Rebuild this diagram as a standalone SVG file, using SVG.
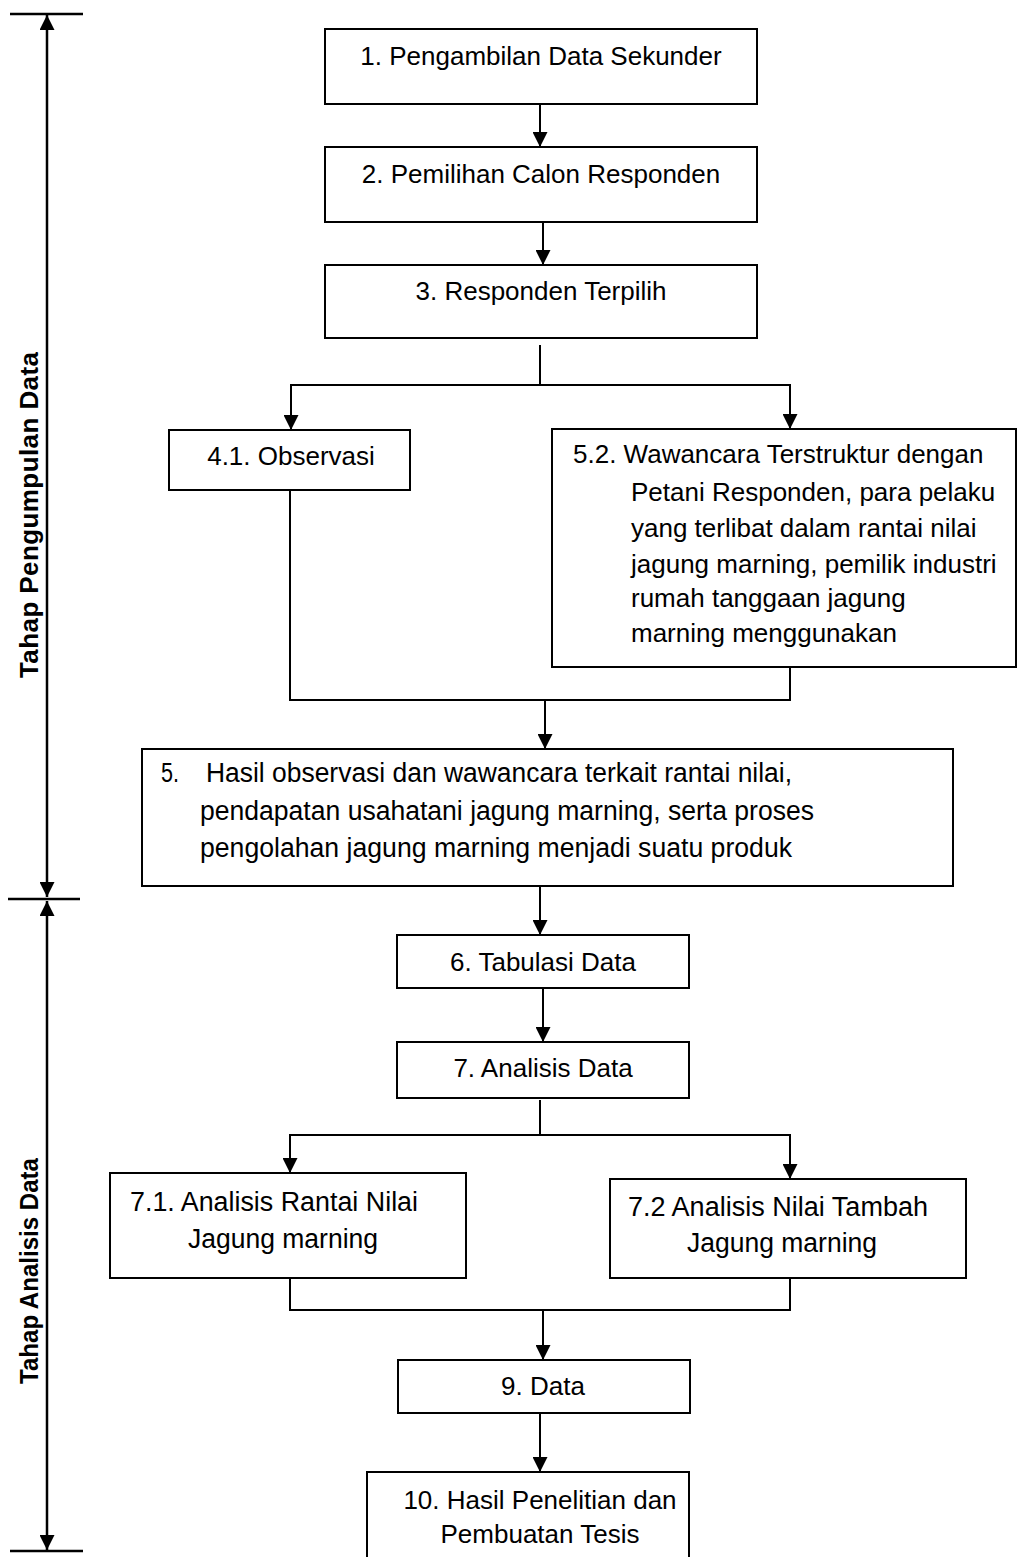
<svg xmlns="http://www.w3.org/2000/svg" width="1017" height="1557" viewBox="0 0 1017 1557">
<style>
.box{fill:#fff;stroke:#000;stroke-width:2}
.t{font-family:"Liberation Sans",Arial,sans-serif;font-size:26px;fill:#000}
.n{font-size:27px}
.c{text-anchor:middle}
.lbl{font-family:"Liberation Sans",Arial,sans-serif;font-size:26px;font-weight:bold;fill:#000;text-anchor:middle}
.ln{fill:none;stroke:#000;stroke-width:2}
.br{fill:none;stroke:#000;stroke-width:2.5}
</style>
<defs>
<marker id="ah" viewBox="0 0 15 15" refX="15" refY="7.5" markerWidth="15" markerHeight="15" markerUnits="userSpaceOnUse" orient="auto">
<path d="M0,0 L15,7.5 L0,15 Z" fill="#000"/>
</marker>
</defs>
<rect width="1017" height="1557" fill="#fff"/>

<g id="bracket">
<line class="br" x1="10" y1="14" x2="83" y2="14"/>
<line class="br" x1="8" y1="899" x2="80" y2="899"/>
<line class="br" x1="10" y1="1551" x2="83" y2="1551"/>
<line class="br" x1="47" y1="470" x2="47" y2="15" marker-end="url(#ah)"/>
<line class="br" x1="47" y1="470" x2="47" y2="897" marker-end="url(#ah)"/>
<line class="br" x1="47" y1="1200" x2="47" y2="901" marker-end="url(#ah)"/>
<line class="br" x1="47" y1="1200" x2="47" y2="1550" marker-end="url(#ah)"/>
<text class="lbl" transform="translate(38,515) rotate(-90)" textLength="326" lengthAdjust="spacing">Tahap Pengumpulan Data</text>
<text class="lbl" transform="translate(38,1271) rotate(-90)" font-size="24" textLength="226" lengthAdjust="spacingAndGlyphs">Tahap Analisis Data</text>
</g>

<g id="connectors">
<line class="ln" x1="540" y1="104" x2="540" y2="147" marker-end="url(#ah)"/>
<line class="ln" x1="543" y1="222" x2="543" y2="265" marker-end="url(#ah)"/>
<polyline class="ln" points="540,345 540,385"/>
<polyline class="ln" points="291,430 291,385 790,385 790,429" marker-end="url(#ah)"/>
<line class="ln" x1="291" y1="386" x2="291" y2="430" marker-end="url(#ah)"/>
<polyline class="ln" points="290,490 290,700 790,700 790,667"/>
<line class="ln" x1="545" y1="700" x2="545" y2="749" marker-end="url(#ah)"/>
<line class="ln" x1="540" y1="886" x2="540" y2="935" marker-end="url(#ah)"/>
<line class="ln" x1="543" y1="988" x2="543" y2="1042" marker-end="url(#ah)"/>
<polyline class="ln" points="540,1100 540,1135"/>
<polyline class="ln" points="290,1173 290,1135 790,1135 790,1179" marker-end="url(#ah)"/>
<line class="ln" x1="290" y1="1136" x2="290" y2="1173" marker-end="url(#ah)"/>
<polyline class="ln" points="290,1276 290,1310 790,1310 790,1278"/>
<line class="ln" x1="543" y1="1310" x2="543" y2="1360" marker-end="url(#ah)"/>
<line class="ln" x1="540" y1="1413" x2="540" y2="1472" marker-end="url(#ah)"/>
</g>

<g id="n1">
<rect class="box" x="325" y="29" width="432" height="75"/>
<text class="t c" x="541" y="65">1. Pengambilan Data Sekunder</text>
</g>
<g id="n2">
<rect class="box" x="325" y="147" width="432" height="75"/>
<text class="t c" x="541" y="183">2. Pemilihan Calon Responden</text>
</g>
<g id="n3">
<rect class="box" x="325" y="265" width="432" height="73"/>
<text class="t c" x="541" y="300">3. Responden Terpilih</text>
</g>
<g id="n41">
<rect class="box" x="169" y="430" width="241" height="60"/>
<text class="t c" x="291" y="465">4.1. Observasi</text>
</g>
<g id="n52">
<rect class="box" x="552" y="429" width="464" height="238"/>
<text class="t" x="573" y="463">5.2. Wawancara Terstruktur dengan</text>
<text class="t" x="631" y="501">Petani Responden, para pelaku</text>
<text class="t" x="631" y="537">yang terlibat dalam rantai nilai</text>
<text class="t" x="631" y="573">jagung marning, pemilik industri</text>
<text class="t" x="631" y="607">rumah tanggaan jagung</text>
<text class="t" x="631" y="642">marning menggunakan</text>
</g>
<g id="n5">
<rect class="box" x="142" y="749" width="811" height="137"/>
<text class="t n" x="161" y="782" textLength="18" lengthAdjust="spacingAndGlyphs">5.</text>
<text class="t n" x="206" y="782" textLength="586" lengthAdjust="spacingAndGlyphs">Hasil observasi dan wawancara terkait rantai nilai,</text>
<text class="t n" x="200" y="820" textLength="614" lengthAdjust="spacingAndGlyphs">pendapatan usahatani jagung marning, serta proses</text>
<text class="t n" x="200" y="857" textLength="592" lengthAdjust="spacingAndGlyphs">pengolahan jagung marning menjadi suatu produk</text>
</g>
<g id="n6">
<rect class="box" x="397" y="935" width="292" height="53"/>
<text class="t c" x="543" y="971">6. Tabulasi Data</text>
</g>
<g id="n7">
<rect class="box" x="397" y="1042" width="292" height="56"/>
<text class="t c" x="543" y="1077">7. Analisis Data</text>
</g>
<g id="n71">
<rect class="box" x="110" y="1173" width="356" height="105"/>
<text class="t n" x="130" y="1211" textLength="288" lengthAdjust="spacingAndGlyphs">7.1. Analisis Rantai Nilai</text>
<text class="t n" x="188" y="1248" textLength="190" lengthAdjust="spacingAndGlyphs">Jagung marning</text>
</g>
<g id="n72">
<rect class="box" x="610" y="1179" width="356" height="99"/>
<text class="t n" x="628" y="1216" textLength="300" lengthAdjust="spacingAndGlyphs">7.2 Analisis Nilai Tambah</text>
<text class="t n" x="687" y="1252" textLength="190" lengthAdjust="spacingAndGlyphs">Jagung marning</text>
</g>
<g id="n9">
<rect class="box" x="398" y="1360" width="292" height="53"/>
<text class="t c" x="543" y="1395">9. Data</text>
</g>
<g id="n10">
<rect class="box" x="367" y="1472" width="322" height="100"/>
<text class="t c" x="540" y="1509">10. Hasil Penelitian dan</text>
<text class="t c" x="540" y="1543">Pembuatan Tesis</text>
</g>
</svg>
